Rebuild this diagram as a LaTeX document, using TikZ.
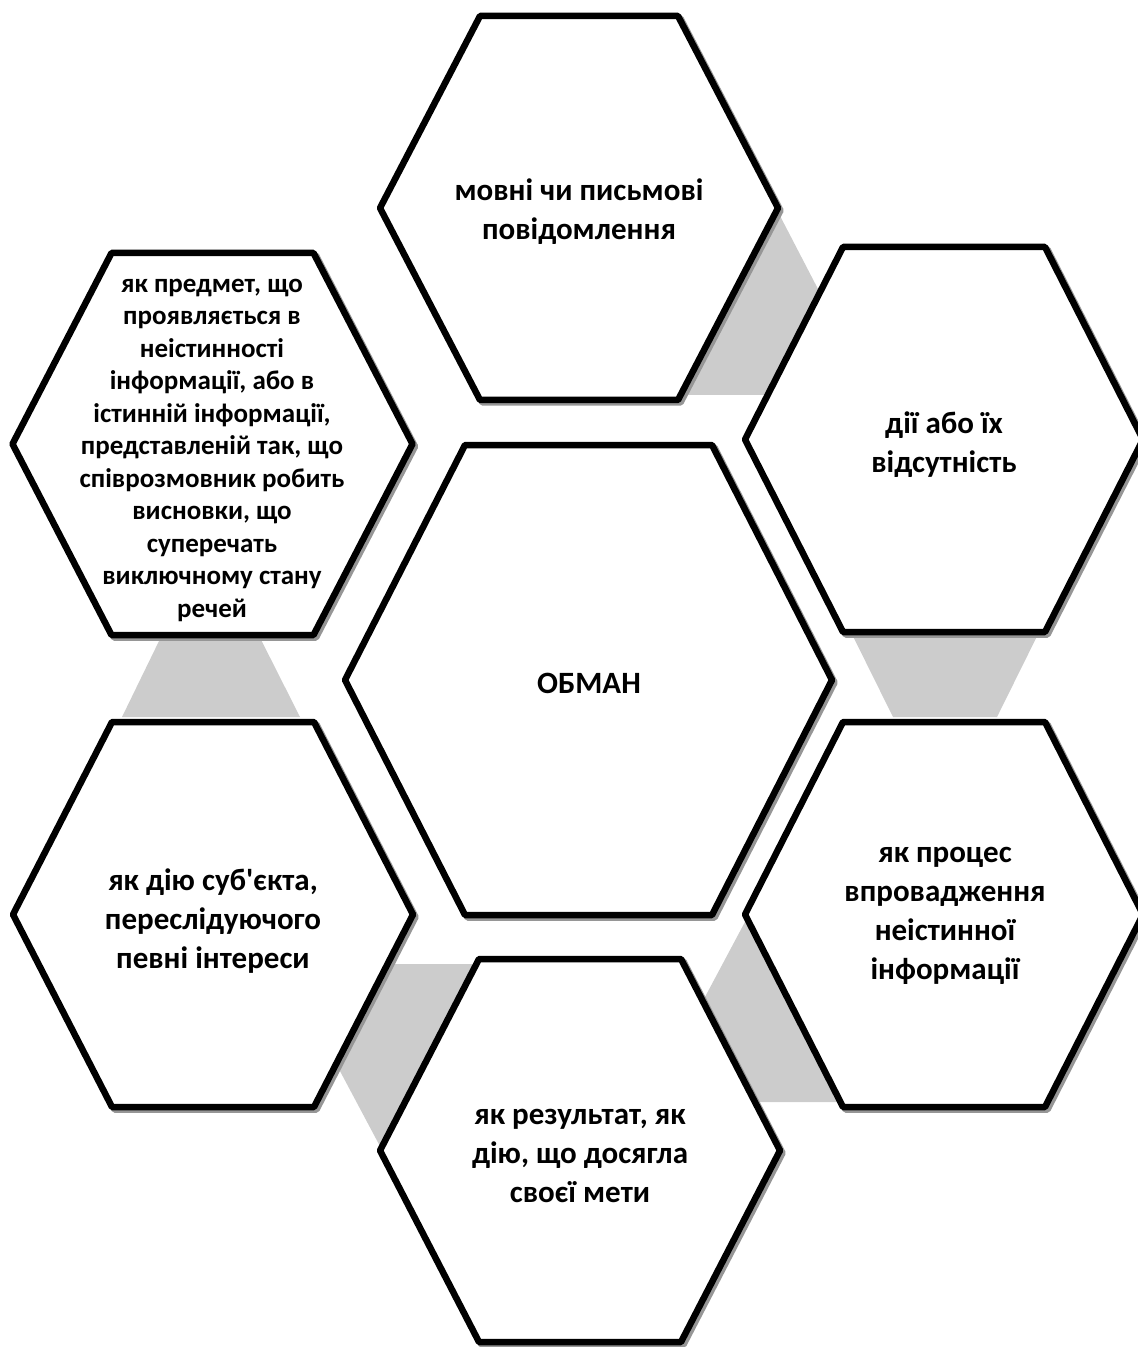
\documentclass[tikz,border=0pt]{standalone}
\usepackage{fontspec}
\setmainfont{Carlito}
\definecolor{linkgray}{RGB}{204,204,204}
\definecolor{shadowgray}{RGB}{150,150,150}
\newcommand\hexpath[5]{({#1-#3},#2) -- ({#1-#5},{#2-#4}) -- ({#1+#5},{#2-#4}) -- ({#1+#3},#2) -- ({#1+#5},{#2+#4}) -- ({#1-#5},{#2+#4}) -- cycle}
\begin{document}
\begin{tikzpicture}[x=0.5pt,y=-0.5pt,
  hexline/.style={draw=black,fill=white,line width=3.25pt,line join=round},
  hexshadow/.style={draw=shadowgray,line width=3.25pt,line join=round},
  link/.style={fill=linkgray,draw=none},
  txt/.style={align=center,font=\fontsize{15.5}{19.5}\selectfont\bfseries,inner sep=0pt},
  smalltxt/.style={align=center,font=\fontsize{13.5}{16.25}\selectfont\bfseries,inner sep=0pt}]
\useasboundingbox (0,0) rectangle (1137,1347);
% gray links between the outer hexagons
\fill[link] (778,212) -- (873,395) -- (650,395) -- (700,212) -- cycle;
\fill[link] (835,600) -- (1055,600) -- (997,717) -- (893,717) -- cycle;
\fill[link] (746,920) -- (820,920) -- (880,1102) -- (649,1102) -- cycle;
\fill[link] (283,964) -- (520,964) -- (520,1150) -- (382,1150) -- cycle;
\fill[link] (179,600) -- (241,600) -- (300,717) -- (122,717) -- cycle;
% shadows
\begin{scope}[shift={(2.5,2.5)}]
\draw[hexshadow] \hexpath{579}{208}{199}{192}{99};
\draw[hexshadow] \hexpath{944}{439.5}{199}{192.5}{101};
\draw[hexshadow] \hexpath{212.5}{444}{200}{191}{101};
\draw[hexshadow] \hexpath{588.5}{680}{243.5}{235}{123.5};
\draw[hexshadow] \hexpath{213}{914.5}{200}{192.5}{101};
\draw[hexshadow] \hexpath{580}{1150.5}{200}{191.5}{101};
\draw[hexshadow] \hexpath{944}{914.5}{199}{192.5}{101};
\end{scope}
% hexagons
\draw[hexline] \hexpath{579}{208}{199}{192}{99};
\draw[hexline] \hexpath{944}{439.5}{199}{192.5}{101};
\draw[hexline] \hexpath{212.5}{444}{200}{191}{101};
\draw[hexline] \hexpath{588.5}{680}{243.5}{235}{123.5};
\draw[hexline] \hexpath{213}{914.5}{200}{192.5}{101};
\draw[hexline] \hexpath{580}{1150.5}{200}{191.5}{101};
\draw[hexline] \hexpath{944}{914.5}{199}{192.5}{101};
% texts
\node[txt] (top) at (579,212) {мовні чи письмові\\повідомлення};
\node[txt] (rightup) at (944,445) {дії або їх\\відсутність};
\node[smalltxt] (leftup) at (212,450) {як предмет, що\\проявляється в\\неістинності\\інформації, або в\\істинній інформації,\\представленій так, що\\співрозмовник робить\\висновки, що\\суперечать\\виключному стану\\речей};
\node[txt] (center) at (589,683) {ОБМАН};
\node[txt] (leftlow) at (213,921) {як дію суб\textquotesingle єкта,\\переслідуючого\\певні інтереси};
\node[txt] (bottom) at (580,1156) {як результат, як\\дію, що досягла\\своєї мети};
\node[txt] (rightlow) at (945,916) {як процес\\впровадження\\неістинної\\інформації};
\end{tikzpicture}
\end{document}
